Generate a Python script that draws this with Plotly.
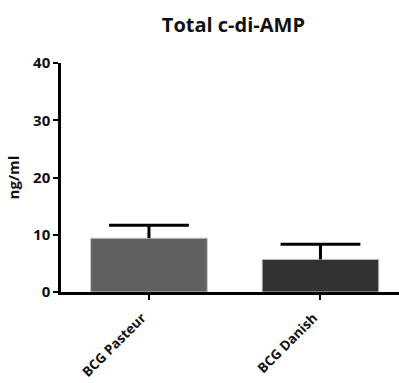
import plotly.graph_objects as go

# Total c-di-AMP per BCG strain (mean + upper SD)
strains = ["BCG Pasteur", "BCG Danish"]
mean_ng_ml = [9.4, 5.7]
sd_ng_ml = [2.25, 2.65]
bar_colors = ["#606060", "#323232"]
y_ticks = [0, 10, 20, 30, 40]

FONT = "Open Sans"
INK = "#111111"

upper = [m + s for m, s in zip(mean_ng_ml, sd_ng_ml)]

fig = go.Figure()

# bars with an upper-only stem (no caps from the error bar itself)
fig.add_trace(
    go.Bar(
        x=strains,
        y=mean_ng_ml,
        width=0.68,
        marker=dict(color=bar_colors, line=dict(color="#c4c4c4", width=1)),
        error_y=dict(
            type="data",
            symmetric=False,
            array=sd_ng_ml,
            arrayminus=[0, 0],
            color="#000000",
            thickness=3,
            width=0,
        ),
        showlegend=False,
        hoverinfo="skip",
    )
)

# cross-bar at the top of each SD whisker
fig.add_trace(
    go.Scatter(
        x=strains,
        y=upper,
        mode="markers",
        marker=dict(symbol="line-ew", size=57,
                    line=dict(color="#000000", width=3)),
        showlegend=False,
        hoverinfo="skip",
    )
)

fig.update_layout(
    width=399,
    height=383,
    margin=dict(l=61, r=0, t=63, b=91),
    paper_bgcolor="white",
    plot_bgcolor="white",
    font=dict(family=FONT, color=INK),
    title=dict(
        text="Total c-di-AMP",
        x=0.51,
        xref="paper",
        xanchor="center",
        y=0.935,
        yanchor="middle",
        font=dict(family=FONT, size=20, weight="bold", color=INK),
    ),
)

fig.update_xaxes(
    range=[-0.513, 1.458],
    automargin=False,
    showline=True,
    linecolor="#000000",
    linewidth=2.5,
    ticks="outside",
    ticklen=5,
    tickwidth=2,
    tickcolor="#000000",
    tickangle=-45,
    ticklabelstandoff=5,
    ticklabelshift=-7,
    tickfont=dict(family=FONT, size=13.5, weight="bold", color=INK),
    showgrid=False,
    zeroline=False,
)

fig.update_yaxes(
    range=[0, 40],
    automargin=False,
    tickvals=y_ticks,
    showline=True,
    linecolor="#000000",
    linewidth=2.5,
    ticks="outside",
    ticklen=5,
    tickwidth=2,
    tickcolor="#000000",
    tickfont=dict(family=FONT, size=15, weight="bold", color=INK),
    showgrid=False,
    zeroline=False,
    title=dict(text="ng/ml", standoff=10,
               font=dict(family=FONT, size=15, weight="bold", color=INK)),
)

fig.write_html("out.html")
